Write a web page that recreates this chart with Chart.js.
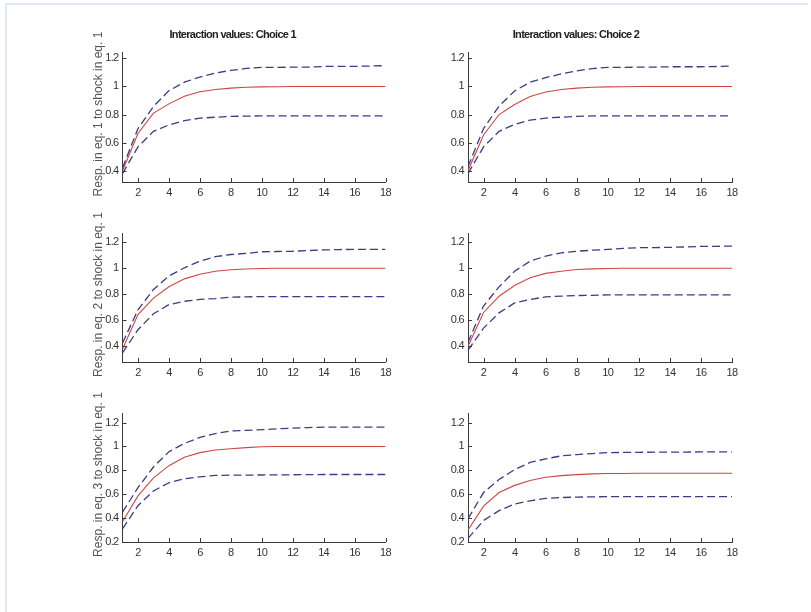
<!DOCTYPE html>
<html>
<head>
<meta charset="utf-8">
<script src="https://cdn.jsdelivr.net/npm/chart.js@4.4.1/dist/chart.umd.min.js"></script>
<style>
  body { margin: 0; background: #fff; }
  #wrap { position: relative; width: 811px; height: 612px; overflow: hidden; }
  #frame { position: absolute; left: 5px; top: 3px; right: 3px; bottom: -10px;
           border-left: 2px solid #dce8f6; border-top: 2px solid #dce8f6; }
  canvas { position: absolute; }
</style>
</head>
<body>
<div id="wrap">
  <div id="frame"></div>
  <canvas id="c11" width="320" height="195" style="left:80px;top:10px"></canvas>
  <canvas id="c12" width="330" height="195" style="left:420px;top:10px"></canvas>
  <canvas id="c21" width="320" height="195" style="left:80px;top:190px"></canvas>
  <canvas id="c22" width="330" height="195" style="left:420px;top:190px"></canvas>
  <canvas id="c31" width="320" height="185" style="left:80px;top:380px"></canvas>
  <canvas id="c32" width="330" height="185" style="left:420px;top:380px"></canvas>
</div>
<script>
const periods = [1,2,3,4,5,6,7,8,9,10,11,12,13,14,15,16,17,18];
const titles = ["Interaction values: Choice 1", "Interaction values: Choice 2"];
const yLabels = ["Resp. in eq. 1 to shock in eq. 1", "Resp. in eq. 2 to shock in eq. 1", "Resp. in eq. 3 to shock in eq. 1"];
const rowMin = [0.32, 0.28, 0.2];
const rowMax = [1.245, 1.27, 1.28];

// eq 1, choice 1
const r1c1Mid = [0.40,0.665,0.81,0.876,0.93,0.962,0.978,0.988,0.994,0.997,0.998,0.999,1.0,1.0,1.0,1.0,1.0,1.0];
const r1c1Hi  = [0.42,0.70,0.857,0.97,1.03,1.067,1.095,1.114,1.128,1.135,1.136,1.137,1.138,1.142,1.143,1.143,1.145,1.148];
const r1c1Lo  = [0.38,0.57,0.68,0.726,0.757,0.774,0.781,0.787,0.789,0.79,0.79,0.79,0.79,0.79,0.79,0.79,0.79,0.79];
// eq 1, choice 2
const r1c2Mid = [0.40,0.655,0.80,0.872,0.928,0.96,0.978,0.988,0.994,0.997,0.998,0.999,1.0,1.0,1.0,1.0,1.0,1.0];
const r1c2Hi  = [0.43,0.70,0.86,0.968,1.03,1.062,1.09,1.11,1.127,1.135,1.136,1.137,1.138,1.14,1.14,1.14,1.142,1.145];
const r1c2Lo  = [0.38,0.57,0.68,0.73,0.76,0.775,0.781,0.787,0.79,0.79,0.79,0.79,0.79,0.79,0.79,0.79,0.79,0.79];
// eq 2, choice 1
const r2c1Mid = [0.38,0.644,0.77,0.857,0.918,0.954,0.977,0.988,0.994,0.998,0.999,1.0,1.0,1.0,1.0,1.0,1.0,1.0];
const r2c1Hi  = [0.426,0.68,0.836,0.94,1.003,1.054,1.088,1.105,1.113,1.126,1.128,1.13,1.135,1.14,1.143,1.144,1.144,1.144];
const r2c1Lo  = [0.35,0.528,0.65,0.72,0.746,0.76,0.767,0.777,0.78,0.782,0.782,0.782,0.782,0.782,0.782,0.782,0.782,0.782];
// eq 2, choice 2
const r2c2Mid = [0.40,0.66,0.785,0.867,0.926,0.96,0.977,0.99,0.995,0.998,0.999,1.0,1.0,1.0,1.0,1.0,1.0,1.0];
const r2c2Hi  = [0.43,0.71,0.857,0.977,1.054,1.092,1.118,1.13,1.138,1.144,1.152,1.157,1.158,1.16,1.163,1.167,1.168,1.17];
const r2c2Lo  = [0.37,0.54,0.657,0.733,0.76,0.78,0.785,0.79,0.792,0.795,0.795,0.795,0.795,0.795,0.795,0.795,0.795,0.795];
// eq 3, choice 1
const r3c1Mid = [0.37,0.586,0.737,0.839,0.91,0.948,0.97,0.981,0.99,0.998,0.999,1.0,1.0,1.0,1.0,1.0,1.0,1.0];
const r3c1Hi  = [0.45,0.655,0.828,0.956,1.025,1.075,1.108,1.13,1.135,1.14,1.147,1.154,1.158,1.162,1.162,1.162,1.162,1.162];
const r3c1Lo  = [0.31,0.504,0.627,0.696,0.73,0.746,0.757,0.76,0.76,0.761,0.762,0.763,0.764,0.765,0.765,0.765,0.765,0.765];
// eq 3, choice 2
const r3c2Mid = [0.30,0.50,0.614,0.674,0.715,0.742,0.756,0.764,0.77,0.773,0.774,0.775,0.775,0.775,0.775,0.775,0.775,0.775];
const r3c2Hi  = [0.395,0.614,0.723,0.806,0.866,0.896,0.921,0.932,0.94,0.948,0.95,0.951,0.952,0.953,0.953,0.954,0.955,0.955];
const r3c2Lo  = [0.23,0.38,0.463,0.518,0.545,0.565,0.572,0.576,0.578,0.58,0.58,0.58,0.58,0.58,0.58,0.58,0.58,0.58];

const sans = '"Liberation Sans", Arial, sans-serif';
const axisColor = '#3a3a3a';

// matlab style ticks pointing into the plot, and squeezed text like the original
const inTicks = {
  id: 'inTicks',
  beforeDraw(chart) {
    chart.ctx.letterSpacing = '-0.7px';
  },
  afterDraw(chart) {
    const ctx = chart.ctx, xs = chart.scales.x, ys = chart.scales.y;
    ctx.save();
    ctx.strokeStyle = axisColor;
    ctx.lineWidth = 1;
    ctx.beginPath();
    xs.ticks.forEach(t => {
      const px = Math.round(xs.getPixelForValue(t.value)) + 0.5;
      ctx.moveTo(px, xs.top); ctx.lineTo(px, xs.top - 4);
    });
    ys.ticks.forEach(t => {
      const py = Math.round(ys.getPixelForValue(t.value)) + 0.5;
      ctx.moveTo(ys.right, py); ctx.lineTo(ys.right + 4, py);
    });
    ctx.stroke();
    ctx.restore();
  }
};

// long ylabel, drawn without squeezing it into the axis height
const sideLabel = {
  id: 'sideLabel',
  afterDraw(chart, args, opts) {
    chart.ctx.letterSpacing = '0px';
    if (!opts.text) return;
    const ctx = chart.ctx, ys = chart.scales.y;
    ctx.save();
    ctx.translate(ys.left + 19, (ys.top + ys.bottom) / 2 - 3);
    ctx.rotate(-Math.PI / 2);
    ctx.font = '12px ' + sans;
    ctx.fillStyle = '#555';
    ctx.textAlign = 'center';
    ctx.textBaseline = 'middle';
    ctx.fillText(opts.text, 0, 0);
    ctx.restore();
  }
};

function makePanel(id, row, col, mid, hi, lo) {
  const isLeft = col === 0;
  const yWidth = isLeft ? 42.5 : 48;
  const padTop = row === 0 ? 0 : (row === 1 ? 43 : 33);
  new Chart(id, {
    type: 'line',
    data: {
      labels: periods,
      datasets: [
        { data: hi, borderColor: '#3c3c84', borderWidth: 1.3, borderDash: [8, 4], pointRadius: 0, tension: 0 },
        { data: lo, borderColor: '#3c3c84', borderWidth: 1.3, borderDash: [8, 4], pointRadius: 0, tension: 0 },
        { data: mid, borderColor: '#d24444', borderWidth: 1.1, pointRadius: 0, tension: 0 }
      ]
    },
    options: {
      responsive: false,
      animation: false,
      devicePixelRatio: 1,
      layout: { padding: { top: padTop, right: isLeft ? 14.5 : 18, left: 0, bottom: 0 } },
      plugins: {
        legend: { display: false },
        tooltip: { enabled: false },
        title: {
          display: row === 0,
          text: titles[col],
          color: '#222',
          font: { family: sans, size: 11, weight: 'bold' },
          padding: { top: 18.8, bottom: 10 }
        },
        sideLabel: { text: isLeft ? yLabels[row] : '' }
      },
      scales: {
        x: {
          type: 'linear',
          min: 1, max: 18,
          grid: { display: false, drawTicks: false },
          border: { display: true, color: axisColor, width: 1 },
          afterBuildTicks: s => { s.ticks = s.ticks.filter(t => t.value % 2 === 0); },
          afterFit: s => { s.height = 23; },
          ticks: { stepSize: 2, maxRotation: 0, autoSkip: false, padding: 4, color: '#333',
                   font: { family: sans, size: 11 } }
        },
        y: {
          min: rowMin[row], max: rowMax[row],
          grid: { display: false, drawTicks: false },
          border: { display: true, color: axisColor, width: 1 },
          afterBuildTicks: s => {
            s.ticks = s.ticks.filter(t => Math.abs(t.value * 5 - Math.round(t.value * 5)) < 1e-6);
          },
          afterFit: s => { s.width = yWidth; },
          ticks: { stepSize: 0.2, includeBounds: false, padding: 4, color: '#333', autoSkip: false,
                   font: { family: sans, size: 11 },
                   callback: v => String(Math.round(v * 10) / 10) }
        }
      }
    },
    plugins: [inTicks, sideLabel]
  });
}

makePanel('c11', 0, 0, r1c1Mid, r1c1Hi, r1c1Lo);
makePanel('c12', 0, 1, r1c2Mid, r1c2Hi, r1c2Lo);
makePanel('c21', 1, 0, r2c1Mid, r2c1Hi, r2c1Lo);
makePanel('c22', 1, 1, r2c2Mid, r2c2Hi, r2c2Lo);
makePanel('c31', 2, 0, r3c1Mid, r3c1Hi, r3c1Lo);
makePanel('c32', 2, 1, r3c2Mid, r3c2Hi, r3c2Lo);
</script>
</body>
</html>
